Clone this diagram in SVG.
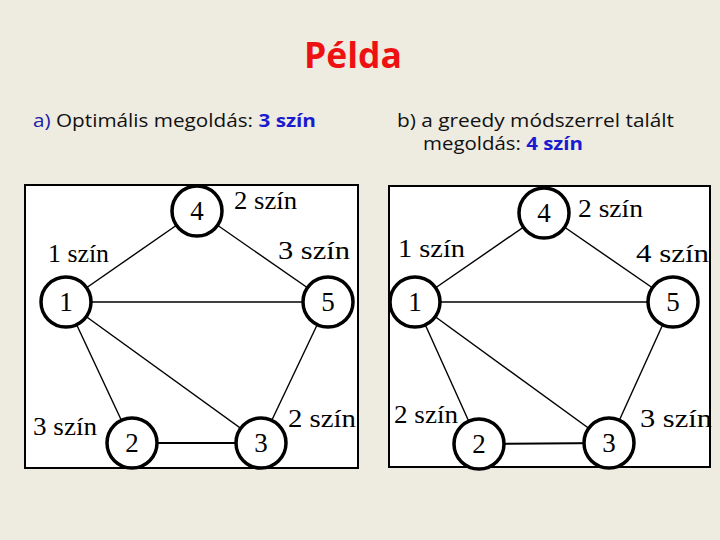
<svg xmlns="http://www.w3.org/2000/svg" width="720" height="540" viewBox="0 0 720 540">
<style>
.bg{fill:#eeece1}
.box{fill:#ffffff;stroke:#000;stroke-width:2}
.edge{stroke:#000;stroke-width:1.4;fill:none}
.node circle{fill:#ffffff;stroke:#000;stroke-width:3.5}
.node text{font-family:"Liberation Serif","Times New Roman",serif;font-size:27px;text-anchor:middle;fill:#000}
.lbl{font-family:"Liberation Serif","Times New Roman",serif;font-size:26px;fill:#000}
.title{font-family:"Open Sans","Liberation Sans",sans-serif;font-weight:bold;font-size:35px;fill:#ee1111}
.sub{font-family:"Open Sans","Liberation Sans",sans-serif;font-size:18px;fill:#111}
.blue{fill:#1c1ca8}
.bb{fill:#1a1ad0;font-weight:bold}
</style>
<rect class="bg" x="0" y="0" width="720" height="540"/>
<text class="title" x="304" y="68" textLength="98" lengthAdjust="spacingAndGlyphs">Példa</text>
<text class="sub" x="33" y="127" textLength="283" lengthAdjust="spacingAndGlyphs"><tspan class="blue">a)</tspan> Optimális megoldás: <tspan class="bb">3 szín</tspan></text>
<text class="sub" x="397" y="127" textLength="277" lengthAdjust="spacingAndGlyphs">b) a greedy módszerrel talált</text>
<text class="sub" x="423" y="150" textLength="160" lengthAdjust="spacingAndGlyphs">megoldás: <tspan class="bb">4 szín</tspan></text>

<g id="panel-a">
<rect class="box" x="25" y="185" width="333" height="283"/>
<g id="edges-a">
<line class="edge" x1="66" y1="302" x2="197" y2="211"/>
<line class="edge" x1="197" y1="211" x2="328" y2="302"/>
<line class="edge" x1="66" y1="302" x2="328" y2="302"/>
<line class="edge" x1="66" y1="302" x2="132" y2="443"/>
<line class="edge" x1="66" y1="302" x2="261" y2="443"/>
<line class="edge" x1="328" y1="302" x2="261" y2="443"/>
<line class="edge" x1="132" y1="443" x2="261" y2="443" style="stroke-width:2"/>
</g>
<g id="a-n4" class="node"><circle cx="197" cy="211" r="25"/><text x="197" y="220">4</text></g>
<g id="a-n1" class="node"><circle cx="66" cy="302" r="25"/><text x="66" y="311">1</text></g>
<g id="a-n5" class="node"><circle cx="328" cy="302" r="25"/><text x="328" y="311">5</text></g>
<g id="a-n2" class="node"><circle cx="132" cy="443" r="25"/><text x="132" y="452">2</text></g>
<g id="a-n3" class="node"><circle cx="261" cy="443" r="25"/><text x="261" y="452">3</text></g>
<text class="lbl" x="48" y="262" textLength="61" lengthAdjust="spacingAndGlyphs">1 szín</text>
<text class="lbl" x="234" y="209" textLength="63" lengthAdjust="spacingAndGlyphs">2 szín</text>
<text class="lbl" x="278" y="259" textLength="72" lengthAdjust="spacingAndGlyphs">3 szín</text>
<text class="lbl" x="33" y="435" textLength="64" lengthAdjust="spacingAndGlyphs">3 szín</text>
<text class="lbl" x="288" y="427" textLength="68" lengthAdjust="spacingAndGlyphs">2 szín</text>
</g>

<g id="panel-b">
<rect class="box" x="389" y="186" width="321" height="281"/>
<g id="edges-b">
<line class="edge" x1="415" y1="302" x2="544" y2="213"/>
<line class="edge" x1="544" y1="213" x2="673" y2="302"/>
<line class="edge" x1="415" y1="302" x2="673" y2="302"/>
<line class="edge" x1="415" y1="302" x2="479" y2="444"/>
<line class="edge" x1="415" y1="302" x2="609" y2="443"/>
<line class="edge" x1="673" y1="302" x2="609" y2="443"/>
<line class="edge" x1="479" y1="444" x2="609" y2="443" style="stroke-width:2"/>
</g>
<g id="b-n4" class="node"><circle cx="544" cy="213" r="25"/><text x="544" y="222">4</text></g>
<g id="b-n1" class="node"><circle cx="415" cy="302" r="25"/><text x="415" y="311">1</text></g>
<g id="b-n5" class="node"><circle cx="673" cy="302" r="25"/><text x="673" y="311">5</text></g>
<g id="b-n2" class="node"><circle cx="479" cy="444" r="25"/><text x="479" y="453">2</text></g>
<g id="b-n3" class="node"><circle cx="609" cy="443" r="25"/><text x="609" y="452">3</text></g>
<text class="lbl" x="398" y="257" textLength="67" lengthAdjust="spacingAndGlyphs">1 szín</text>
<text class="lbl" x="578" y="217" textLength="65" lengthAdjust="spacingAndGlyphs">2 szín</text>
<text class="lbl" x="636" y="262" textLength="73" lengthAdjust="spacingAndGlyphs">4 szín</text>
<text class="lbl" x="394" y="423" textLength="64" lengthAdjust="spacingAndGlyphs">2 szín</text>
<text class="lbl" x="640" y="427" textLength="72" lengthAdjust="spacingAndGlyphs">3 szín</text>
</g>
</svg>
